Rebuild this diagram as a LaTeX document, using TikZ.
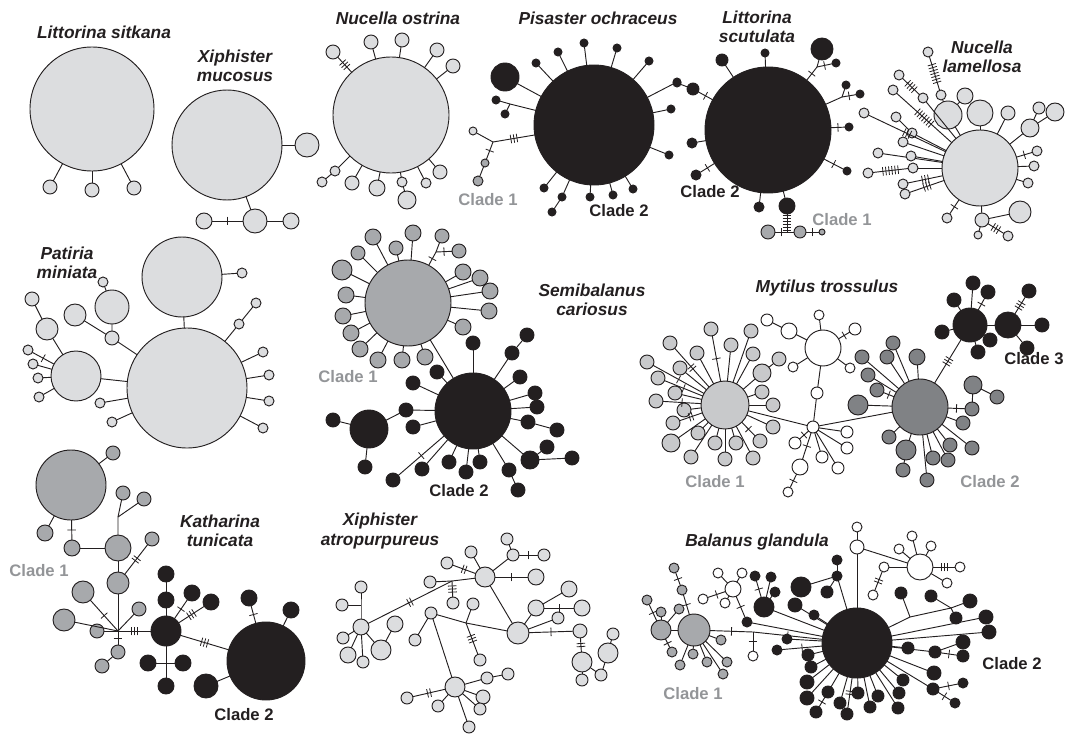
\documentclass[tikz,border=0pt]{standalone}
\usepackage{fontspec}
\setmainfont{Liberation Sans}
\usetikzlibrary{decorations.markings}

\definecolor{hlight}{HTML}{DCDDDF}
\definecolor{hmid}{HTML}{A7A9AC}
\definecolor{hpale}{HTML}{C8C9CB}
\definecolor{hdark}{HTML}{808285}
\definecolor{hblack}{HTML}{231F20}
\definecolor{cladegray}{HTML}{939598}

\tikzset{
  hap/.style={circle, draw=hblack, line width=0.7pt, inner sep=0pt, outer sep=0pt},
  sz/.style={minimum size={#1*1.5pt}},
  lg/.style={hap, fill=hlight},
  mg/.style={hap, fill=hmid},
  pg/.style={hap, fill=hpale},
  dg/.style={hap, fill=hdark},
  bk/.style={hap, fill=hblack},
  wh/.style={hap, fill=white},
  mut/.style={postaction={decorate, decoration={markings,
      mark=at position 0.5 with {\foreach \k in {1,...,#1}
        {\draw[line width=0.6pt] ({(\k-(#1+1)/2)*2.3pt},-3.2pt) -- ({(\k-(#1+1)/2)*2.3pt},3.2pt);}}}}},
  species/.style={font=\fontsize{13}{14.3}\selectfont\bfseries\itshape, align=center, text=hblack, inner sep=0pt},
  cladeg/.style={font=\fontsize{12.5}{14}\selectfont\bfseries, text=cladegray, inner sep=0pt},
  cladek/.style={font=\fontsize{12.5}{14}\selectfont\bfseries, text=hblack, inner sep=0pt}
}

\begin{document}
\begin{tikzpicture}[x=0.75pt, y=-0.75pt, line width=0.7pt, color=hblack]
\useasboundingbox (0,0) rectangle (1066,735);

% Littorina sitkana
\node[species] (lsT) at (104,32) {Littorina sitkana};
\node[lg, sz=62] (ls0) at (92,109) {};
\foreach \n/\x/\y in {1/50/187, 2/92/190, 3/134/188}
  {\node[lg, sz=7] (ls\n) at (\x,\y) {}; \draw (ls0) -- (ls\n);}

% Xiphister mucosus
\node[species] (xmT) at (235,66) {Xiphister\\mucosus};
\node[lg, sz=55] (xm0) at (227,145) {};
\node[lg, sz=12] (xm1) at (307,145) {};
\node[lg, sz=12] (xm2) at (255,221) {};
\node[lg, sz=8] (xm3) at (204,221) {};
\node[lg, sz=8] (xm4) at (291,221) {};
\draw (xm0) -- (xm1);
\draw (xm0) -- (xm2);
\draw[mut=1] (xm2) -- (xm3);
\draw (xm2) -- (xm4);

% Nucella ostrina
\node[species] (noT) at (398,18) {Nucella ostrina};
\node[lg, sz=58] (no0) at (391,115) {};
\foreach \n/\x/\y/\s in {2/371/42/7, 3/402/40/7, 4/437/50/7, 5/453/66/7, 6/440/172/7, 7/426/183/5, 8/402/182/5, 10/377/188/8, 11/352/183/7, 12/335/171/5}
  {\node[lg, sz=\s] (no\n) at (\x,\y) {}; \draw (no0) -- (no\n);}
\node[lg, sz=7] (no1) at (333,52) {};
\node[lg, sz=9] (no9) at (407,200) {};
\node[lg, sz=5] (no13) at (322,182) {};
\draw[mut=3] (no0) -- (no1);
\draw (no8) -- (no9);
\draw (no12) -- (no13);

% Pisaster ochraceus
\node[species] (poT) at (598,18) {Pisaster ochraceus};
\node[bk, sz=60] (po0) at (594,125) {};
\node[bk, sz=14] (po1) at (505,77) {};
\draw (po0) -- (po1);
\coordinate (poj1) at (510,104);
\node[bk, sz=4] (po2) at (496,100) {};
\node[bk, sz=4] (po3) at (505,114) {};
\draw (po0) -- (poj1) -- (po2);
\draw (poj1) -- (po3);
\coordinate (poj2) at (493,142);
\node[lg, sz=4] (po4) at (473,131) {};
\node[mg, sz=4] (po5) at (485,163) {};
\node[mg, sz=5] (po6) at (478,181) {};
\draw[mut=3] (po0) -- (poj2);
\draw (poj2) -- (po4);
\draw[mut=1] (poj2) -- (po5);
\draw (po5) -- (po6);
\foreach \n/\x/\y in {7/536/63, 8/558/52, 9/584/43, 10/617/48, 11/649/61, 12/677/82, 13/671/109, 14/669/155, 15/633/189, 16/613/195, 17/590/197, 18/544/188, 19/562/197}
  {\node[bk, sz=4] (po\n) at (\x,\y) {}; \draw (po0) -- (po\n);}
\node[bk, sz=4] (po20) at (552,212) {};
\draw (po19) -- (po20);
\node[cladeg] (poC1) at (488,200) {Clade 1};
\node[cladek] (poC2) at (619,211) {Clade 2};

% Littorina scutulata
\node[species] (lscT) at (757,27) {Littorina\\scutulata};
\node[bk, sz=63] (lsc0) at (768,130) {};
\foreach \n/\x/\y/\s in {1/765/53/4, 2/722/60/6, 7/692/143/5, 13/759/207/5, 14/787/206/8}
  {\node[bk, sz=\s] (lsc\n) at (\x,\y) {}; \draw (lsc0) -- (lsc\n);}
\foreach \n/\x/\y/\s in {8/696/175/5, 11/849/127/4, 12/847/171/4}
  {\node[bk, sz=\s] (lsc\n) at (\x,\y) {}; \draw[mut=1] (lsc0) -- (lsc\n);}
\coordinate (lscj1) at (817,67);
\node[bk, sz=11] (lsc3) at (822,49) {};
\node[bk, sz=4] (lsc4) at (836,63) {};
\draw[mut=1] (lsc0) -- (lscj1);
\draw (lscj1) -- (lsc3);
\draw[mut=1] (lscj1) -- (lsc4);
\node[bk, sz=6] (lsc6) at (693,89) {};
\node[bk, sz=4] (lsc5) at (677,83) {};
\draw[mut=1] (lsc0) -- (lsc6);
\draw (lsc6) -- (lsc5);
\coordinate (lscj2) at (842,97);
\node[bk, sz=4] (lsc9) at (846,85) {};
\node[bk, sz=4] (lsc10) at (860,94) {};
\draw (lsc0) -- (lscj2) -- (lsc9);
\draw[mut=1] (lscj2) -- (lsc10);
\coordinate (lscj3) at (787,232);
\draw[mut=6] (lsc14) -- (lscj3);
\node[mg, sz=7] (lsc15) at (768,232) {};
\node[mg, sz=6] (lsc16) at (800,232) {};
\node[mg, sz=3] (lsc17) at (822,232) {};
\draw[mut=1] (lsc15) -- (lscj3);
\draw (lscj3) -- (lsc16);
\draw[mut=1] (lsc16) -- (lsc17);
\node[cladek] (lscC2) at (710,192) {Clade 2};
\node[cladeg] (lscC1) at (842,220) {Clade 1};

% Nucella lamellosa
\node[species] (nlT) at (982,57) {Nucella\\lamellosa};
\node[lg, sz=38] (nl0) at (980,168) {};
\foreach \n/\x/\y/\s in {1/948/115/14, 2/980/113/13, 6/1008/113/7, 7/1030/128/9, 11/1034/166/5, 12/1028/183/5, 13/982/220/7, 22/878/153/5, 23/911/156/5, 24/903/142/5, 21/913/168/5, 27/912/133/5, 30/923/98/5}
  {\node[lg, sz=\s] (nl\n) at (\x,\y) {}; \draw (nl0) -- (nl\n);}
\foreach \n/\x/\y in {10/1037/151, 17/947/218}
  {\node[lg, sz=5] (nl\n) at (\x,\y) {}; \draw[mut=1] (nl0) -- (nl\n);}
\foreach \n/\x/\y in {18/905/194, 19/903/184, 25/864/113}
  {\node[lg, sz=5] (nl\n) at (\x,\y) {}; \draw[mut=3] (nl0) -- (nl\n);}
\node[lg, sz=5] (nl28) at (893,90) {};
\draw[mut=7] (nl0) -- (nl28);
\node[lg, sz=8] (nl3) at (965,96) {};
\node[lg, sz=5] (nl4) at (941,95) {};
\node[lg, sz=5] (nl5) at (928,52) {};
\draw (nl1) -- (nl3);
\draw (nl1) -- (nl4);
\draw[mut=7] (nl4) -- (nl5);
\node[lg, sz=6] (nl8) at (1039,108) {};
\node[lg, sz=9] (nl9) at (1055,112) {};
\draw (nl7) -- (nl8);
\draw (nl7) -- (nl9);
\node[lg, sz=11] (nl14) at (1020,212) {};
\node[lg, sz=4] (nl15) at (978,235) {};
\node[lg, sz=5] (nl16) at (1008,236) {};
\draw (nl13) -- (nl14);
\draw (nl13) -- (nl15);
\draw[mut=3] (nl13) -- (nl16);
\node[lg, sz=5] (nl20) at (868,173) {};
\draw[mut=6] (nl20) -- (nl21);
\node[lg, sz=5] (nl26) at (896,117) {};
\draw (nl26) -- (nl27);
\node[lg, sz=5] (nl29) at (899,75) {};
\draw[mut=4] (nl29) -- (nl30);

% Patiria miniata
\node[species] (pmT) at (67,263) {Patiria\\miniata};
\node[lg, sz=60] (pm0) at (187,388) {};
\foreach \n/\x/\y/\s in {1/182/277/40, 3/239/324/5, 5/263/352/5, 6/269/375/5, 7/269/401/5, 8/263/428/5, 9/100/403/5, 10/112/422/5, 11/112/338/7, 15/76/376/25}
  {\node[lg, sz=\s] (pm\n) at (\x,\y) {}; \draw (pm0) -- (pm\n);}
\node[lg, sz=5] (pm2) at (242,273) {};
\node[lg, sz=5] (pm4) at (256,303) {};
\node[lg, sz=17] (pm12) at (112,307) {};
\node[lg, sz=5] (pm13) at (103,282) {};
\node[lg, sz=11] (pm14) at (75,315) {};
\draw (pm1) -- (pm2);
\draw (pm3) -- (pm4);
\draw (pm11) -- (pm12) -- (pm13);
\draw (pm11) -- (pm14);
\node[lg, sz=11] (pm16) at (47,329) {};
\node[lg, sz=7] (pm17) at (32,299) {};
\draw (pm15) -- (pm16) -- (pm17);
\node[lg, sz=5] (pm18) at (28,350) {};
\draw[mut=1] (pm15) -- (pm18);
\foreach \n/\x/\y in {19/33/364, 20/38/378, 21/39/397}
  {\node[lg, sz=5] (pm\n) at (\x,\y) {}; \draw (pm15) -- (pm\n);}

% Semibalanus cariosus
\node[species] (scT) at (592,300) {Semibalanus\\cariosus};
\node[mg, sz=43] (sc0) at (408,303) {};
\foreach \n/\x/\y/\s in {1/373/237/8, 2/413/233/8, 3/396/248/7, 4/358/253/7, 5/342/270/10, 6/346/295/8, 7/343/316/8, 8/351/333/8, 9/360/349/8, 10/378/360/8, 11/402/360/8, 12/425/357/8, 13/463/327/8, 14/489/311/8, 15/490/291/8, 16/480/278/8, 17/463/272/8}
  {\node[mg, sz=\s] (sc\n) at (\x,\y) {}; \draw (sc0) -- (sc\n);}
\coordinate (scj1) at (436,252);
\node[mg, sz=7] (sc18) at (442,236) {};
\node[mg, sz=7] (sc19) at (459,251) {};
\draw[mut=1] (sc0) -- (scj1);
\draw (scj1) -- (sc18);
\draw[mut=1] (scj1) -- (sc19);
\node[cladeg] (scC1) at (348,377) {Clade 1};
\node[bk, sz=38] (sc20) at (473,411) {};
\draw (sc0) -- (sc20);
\node[bk, sz=19] (sc21) at (369,429) {};
\foreach \n/\x/\y in {22/333/420, 23/365/467}
  {\node[bk, sz=7] (sc\n) at (\x,\y) {}; \draw (sc21) -- (sc\n);}
\node[bk, sz=7] (sc24) at (406,410) {};
\draw (sc21) -- (sc24) -- (sc20);
\foreach \n/\x/\y/\s in {25/413/383/7, 26/437/372/7, 27/413/427/7, 28/473/343/7, 29/512/353/7, 31/520/377/7, 32/535/393/7, 33/537/407/7, 34/528/422/7, 36/530/460/9, 39/422/469/7, 40/449/462/7, 41/466/472/7, 42/480/462/7, 43/509/470/7}
  {\node[bk, sz=\s] (sc\n) at (\x,\y) {}; \draw (sc20) -- (sc\n);}
\node[bk, sz=7] (sc38) at (393,480) {};
\draw[mut=1] (sc20) -- (sc38);
\node[bk, sz=7] (sc30) at (527,335) {};
\node[bk, sz=7] (sc35) at (557,430) {};
\node[bk, sz=7] (sc37) at (547,447) {};
\node[bk, sz=7] (sc44) at (572,458) {};
\node[bk, sz=7] (sc45) at (518,490) {};
\draw (sc29) -- (sc30);
\draw (sc34) -- (sc35);
\draw (sc36) -- (sc37);
\draw (sc36) -- (sc44);
\draw (sc43) -- (sc45);
\node[cladek] (scC2) at (459,491) {Clade 2};

% Mytilus trossulus
\node[species] (mtT) at (827,288) {Mytilus trossulus};
\node[pg, sz=24] (mt1) at (725,405) {};
\foreach \n/\x/\y/\s in {6/671/443/9, 7/691/457/7, 8/680/368/7, 9/675/393/7, 11/684/410/7, 12/697/353/7, 13/731/345/7, 14/751/331/7, 15/753/354/7, 16/762/373/9, 18/762/392/7, 19/773/405/7, 20/773/427/7, 21/753/458/7, 22/736/443/7, 23/725/459/7, 24/715/443/7, 25/698/433/7}
  {\node[pg, sz=\s] (mta\n) at (\x,\y) {}; \draw (mt1) -- (mta\n);}
\foreach \n/\x/\y in {2/647/362, 3/658/378, 4/656/401, 10/711/329, 17/760/441}
  {\node[pg, sz=7] (mta\n) at (\x,\y) {}; \draw[mut=1] (mt1) -- (mta\n);}
\foreach \n/\x/\y in {1/670/343, 5/673/423}
  {\node[pg, sz=7] (mta\n) at (\x,\y) {}; \draw[mut=2] (mt1) -- (mta\n);}
\node[pg, sz=7] (mta26) at (779,359) {};
\draw (mta16) -- (mta26);
\node[wh, sz=18] (mtw0) at (823,348) {};
\node[wh, sz=8] (mtw1) at (789,331) {};
\node[wh, sz=6] (mtw2) at (767,320) {};
\draw (mtw0) -- (mtw1) -- (mtw2);
\foreach \n/\x/\y/\s in {3/819/315/5, 5/793/367/5, 6/850/368/5}
  {\node[wh, sz=\s] (mtw\n) at (\x,\y) {}; \draw (mtw0) -- (mtw\n);}
\node[wh, sz=6] (mtw4) at (855,329) {};
\draw[mut=1] (mtw0) -- (mtw4);
\node[wh, sz=6] (mtw7) at (817,393) {};
\node[wh, sz=6] (mtw8) at (813,427) {};
\draw (mtw0) -- (mtw7) -- (mtw8);
\foreach \n/\x/\y in {10/822/457, 11/847/432, 12/847/448, 13/838/468}
  {\node[wh, sz=6] (mtw\n) at (\x,\y) {}; \draw (mtw8) -- (mtw\n);}
\node[wh, sz=6] (mtw14) at (795,443) {};
\node[wh, sz=8] (mtw9) at (800,467) {};
\node[wh, sz=5] (mtw15) at (788,492) {};
\draw[mut=1] (mtw8) -- (mtw14);
\draw[mut=1] (mtw8) -- (mtw9);
\draw[mut=1] (mtw9) -- (mtw15);
\node[dg, sz=28] (mt2) at (920,407) {};
\draw (mt1) -- (mtw8) -- (mt2);
\foreach \n/\x/\y/\s in {1/862/357/7, 2/868/375/7, 4/858/405/10, 5/887/357/7, 6/893/343/7, 7/917/357/8, 8/889/437/7, 9/906/450/10, 11/927/480/7, 12/933/458/7, 13/948/460/7, 14/950/445/7, 15/963/423/7, 16/972/448/7}
  {\node[dg, sz=\s] (mtd\n) at (\x,\y) {}; \draw (mt2) -- (mtd\n);}
\foreach \n/\x/\y in {3/877/390, 17/972/409}
  {\node[dg, sz=7] (mtd\n) at (\x,\y) {}; \draw[mut=1] (mt2) -- (mtd\n);}
\node[dg, sz=7] (mtd10) at (903,470) {};
\node[dg, sz=9] (mtd18) at (973,385) {};
\node[dg, sz=7] (mtd19) at (997,397) {};
\draw (mtd9) -- (mtd10);
\draw (mtd17) -- (mtd18) -- (mtd19);
\node[bk, sz=17] (mt3) at (970,325) {};
\node[bk, sz=13] (mt4) at (1008,325) {};
\draw[mut=3] (mt2) -- (mt3);
\draw (mt3) -- (mt4);
\foreach \n/\x/\y in {1/973/283, 3/942/332, 4/954/300, 5/990/340, 6/978/352}
  {\node[bk, sz=7] (mtk\n) at (\x,\y) {}; \draw (mt3) -- (mtk\n);}
\node[bk, sz=7] (mtk2) at (988,292) {};
\draw[mut=1] (mt3) -- (mtk2);
\node[bk, sz=7] (mtk7) at (1029,291) {};
\draw[mut=3] (mt4) -- (mtk7);
\foreach \n/\x/\y in {8/1042/325, 9/1027/348}
  {\node[bk, sz=7] (mtk\n) at (\x,\y) {}; \draw (mt4) -- (mtk\n);}
\node[cladeg] (mtC1) at (715,482) {Clade 1};
\node[cladeg] (mtC2) at (990,482) {Clade 2};
\node[cladek, anchor=east] (mtC3) at (1064,359) {Clade 3};

% Katharina tunicata
\node[species] (ktT) at (220,531) {Katharina\\tunicata};
\node[mg, sz=35] (kt0) at (71,485) {};
\node[mg, sz=7] (kt1) at (113,453) {};
\node[mg, sz=8] (kt2) at (45,533) {};
\node[mg, sz=8] (kt3) at (72,548) {};
\node[mg, sz=13] (kt4) at (118,548) {};
\draw (kt0) -- (kt1);
\draw (kt0) -- (kt2);
\draw[mut=1] (kt0) -- (kt3);
\draw (kt3) -- (kt4);
\coordinate (ktj1) at (118,517);
\node[mg, sz=7] (kt5) at (123,493) {};
\node[mg, sz=7] (kt6) at (144,499) {};
\draw (kt4) -- (ktj1) -- (kt5);
\draw (ktj1) -- (kt6);
\node[mg, sz=11] (kt7) at (118,583) {};
\node[mg, sz=7] (kt8) at (152,539) {};
\draw (kt4) -- (kt7);
\draw[mut=2] (kt7) -- (kt8);
\coordinate (ktj2) at (118,631);
\draw (kt7) -- (ktj2);
\node[mg, sz=11] (kt9) at (83,592) {};
\node[mg, sz=11] (kt10) at (64,620) {};
\node[mg, sz=7] (kt11) at (97,631) {};
\node[mg, sz=7] (kt12) at (139,609) {};
\node[mg, sz=7] (kt13) at (118,652) {};
\node[mg, sz=7] (kt14) at (102,666) {};
\draw[mut=1] (ktj2) -- (kt9);
\draw (ktj2) -- (kt10);
\draw (ktj2) -- (kt11);
\draw (ktj2) -- (kt12);
\draw[mut=1] (ktj2) -- (kt13);
\draw (kt13) -- (kt14);
\node[bk, sz=15] (kt15) at (166,631) {};
\draw[mut=3] (ktj2) -- (kt15);
\node[bk, sz=8] (kt16) at (166,600) {};
\node[bk, sz=8] (kt17) at (166,574) {};
\node[bk, sz=8] (kt18) at (192,593) {};
\node[bk, sz=8] (kt19) at (211,602) {};
\draw (kt15) -- (kt16) -- (kt17);
\draw[mut=1] (kt15) -- (kt18);
\draw[mut=3] (kt15) -- (kt19);
\coordinate (ktj3) at (166,663);
\draw (kt15) -- (ktj3);
\foreach \n/\x/\y in {20/148/663, 21/183/663, 22/166/686}
  {\node[bk, sz=8] (kt\n) at (\x,\y) {}; \draw (ktj3) -- (kt\n);}
\node[bk, sz=39] (kt23) at (266,661) {};
\draw[mut=3] (kt15) -- (kt23);
\node[bk, sz=8] (kt24) at (249,598) {};
\node[bk, sz=8] (kt25) at (291,610) {};
\node[bk, sz=12] (kt26) at (206,686) {};
\draw[mut=1] (kt23) -- (kt24);
\draw (kt23) -- (kt25);
\draw (kt23) -- (kt26);
\node[cladeg] (ktC1) at (39,571) {Clade 1};
\node[cladek] (ktC2) at (244,715) {Clade 2};

% Xiphister atropurpureus
\node[species] (xaT) at (380,531) {Xiphister\\atropurpureus};
\node[lg, sz=10] (xaA) at (485,577) {};
\node[lg, sz=6] (xa1) at (471,552) {};
\node[lg, sz=6] (xa2) at (447,563) {};
\node[lg, sz=6] (xa3) at (513,555) {};
\node[lg, sz=6] (xa4) at (507,539) {};
\node[lg, sz=6] (xa5) at (544,555) {};
\node[lg, sz=8] (xa6) at (536,577) {};
\draw (xaA) -- (xa1);
\draw[mut=2] (xaA) -- (xa2);
\draw (xaA) -- (xa3) -- (xa4);
\draw[mut=1] (xa3) -- (xa5);
\draw[mut=1] (xaA) -- (xa6);
\node[lg, sz=6] (xaB) at (430,582) {};
\coordinate (xaj1) at (452,581);
\node[lg, sz=6] (xa7) at (453,603) {};
\draw (xaB) -- (xaj1) -- (xaA);
\draw[mut=3] (xaj1) -- (xa7);
\node[lg, sz=8] (xaC) at (361,627) {};
\draw[mut=2] (xaC) -- (xaj1);
\coordinate (xaj2) at (361,605);
\node[lg, sz=6] (xa8) at (361,587) {};
\node[lg, sz=6] (xa9) at (342,605) {};
\draw (xaC) -- (xaj2) -- (xa8);
\draw (xaj2) -- (xa9);
\foreach \n/\x/\y/\s in {10/343/638/6, 11/348/655/8, 12/363/662/6, 13/381/650/10}
  {\node[lg, sz=\s] (xa\n) at (\x,\y) {}; \draw (xaC) -- (xa\n);}
\node[lg, sz=8] (xa14) at (395,624) {};
\draw (xa13) -- (xa14);
\node[lg, sz=11] (xaD) at (518,633) {};
\draw (xaA) -- (xaD);
\node[lg, sz=8] (xa15) at (536,608) {};
\node[lg, sz=8] (xa16) at (569,589) {};
\node[lg, sz=8] (xa17) at (582,608) {};
\node[lg, sz=6] (xa18) at (558,618) {};
\node[lg, sz=7] (xa19) at (580,631) {};
\draw (xaD) -- (xa15) -- (xa16);
\draw[mut=1] (xa15) -- (xa17);
\draw (xaD) -- (xa18);
\draw[mut=1] (xaD) -- (xa19);
\node[lg, sz=10] (xa20) at (582,662) {};
\node[lg, sz=6] (xa21) at (582,680) {};
\node[lg, sz=6] (xa22) at (601,675) {};
\node[lg, sz=10] (xa23) at (608,653) {};
\node[lg, sz=6] (xa24) at (613,634) {};
\draw[mut=2] (xa19) -- (xa20);
\draw (xa20) -- (xa21);
\draw (xa20) -- (xa22) -- (xa23) -- (xa24);
\node[lg, sz=6] (xaE) at (431,613) {};
\coordinate (xaj3) at (466,623);
\node[lg, sz=6] (xa25) at (473,604) {};
\node[lg, sz=6] (xa26) at (480,660) {};
\draw (xaE) -- (xaj3) -- (xaD);
\draw (xaj3) -- (xa25);
\draw[mut=3] (xaj3) -- (xa26);
\node[lg, sz=6] (xa27) at (415,640) {};
\draw (xaE) -- (xa27);
\node[lg, sz=10] (xaF) at (455,687) {};
\draw (xaE) -- (xaF);
\node[lg, sz=6] (xa28) at (407,698) {};
\draw[mut=2] (xaF) -- (xa28);
\foreach \n/\x/\y/\s in {29/438/706/6, 30/469/727/6, 31/483/697/7, 32/480/709/6, 33/487/678/6}
  {\node[lg, sz=\s] (xa\n) at (\x,\y) {}; \draw (xaF) -- (xa\n);}
\node[lg, sz=6] (xa34) at (508,674) {};
\draw (xa33) -- (xa34);

% Balanus glandula
\node[species] (bgT) at (757,542) {Balanus glandula};
\node[bk, sz=35] (bg0) at (857,643) {};
\node[wh, sz=5] (bgw1) at (857,527) {};
\node[wh, sz=7] (bgw2) at (857,547) {};
\node[wh, sz=13] (bgw3) at (920,567) {};
\draw (bg0) -- (bgw2) -- (bgw1);
\draw (bgw2) -- (bgw3);
\foreach \n/\x/\y in {4/912/536, 5/899/549, 6/931/546, 8/947/583, 9/884/567}
  {\node[wh, sz=5] (bgw\n) at (\x,\y) {}; \draw (bgw3) -- (bgw\n);}
\node[wh, sz=5] (bgw7) at (960,567) {};
\draw[mut=3] (bgw3) -- (bgw7);
\node[wh, sz=5] (bgw10) at (873,595) {};
\draw[mut=2] (bgw9) -- (bgw10);
\node[wh, sz=8] (bgw11) at (733,589) {};
\foreach \n/\x/\y in {12/718/573, 13/742/573, 15/725/603}
  {\node[wh, sz=5] (bgw\n) at (\x,\y) {}; \draw (bgw11) -- (bgw\n);}
\node[wh, sz=5] (bgw14) at (703,599) {};
\draw[mut=1] (bgw11) -- (bgw14);
\node[bk, sz=5] (bgk1) at (747,622) {};
\draw[mut=1] (bgw11) -- (bgk1);
\draw (bgk1) -- (bg0);
\node[mg, sz=16] (bgg0) at (694,630) {};
\node[mg, sz=10] (bgg1) at (661,630) {};
\draw (bgg0) -- (bgg1);
\coordinate (bgj1) at (753,632);
\node[wh, sz=5] (bgw16) at (753,656) {};
\draw[mut=1] (bgg0) -- (bgj1);
\draw[mut=1] (bgj1) -- (bg0);
\draw[mut=1] (bgj1) -- (bgw16);
\node[bk, sz=10] (bgk2) at (764,607) {};
\draw (bg0) -- (bgk2);
\node[bk, sz=5] (bgk3) at (755,576) {};
\draw[mut=1] (bgk2) -- (bgk3);
\foreach \n/\x/\y in {4/771/577, 5/775/592}
  {\node[bk, sz=5] (bgk\n) at (\x,\y) {}; \draw (bgk2) -- (bgk\n);}
\node[bk, sz=5] (bgk7) at (837,576) {};
\node[bk, sz=10] (bgk6) at (801,587) {};
\node[bk, sz=5] (bgk8) at (837,560) {};
\node[bk, sz=6] (bgk9) at (827,592) {};
\draw (bg0) -- (bgk7) -- (bgk6);
\draw (bgk7) -- (bgk8);
\draw (bgk7) -- (bgk9);
\foreach \n/\x/\y/\s in {10/795/605/7, 11/814/615/5, 12/787/639/5, 14/808/655/6, 15/811/667/6, 16/807/682/7, 17/807/698/7, 19/828/692/6, 20/840/703/6, 22/858/693/6, 23/870/707/6, 24/878/696/6, 25/898/708/6, 26/899/693/6, 27/903/680/6, 28/934/673/7, 29/933/689/6, 32/908/648/6, 33/935/652/6, 36/986/617/7, 37/989/632/7}
  {\node[bk, sz=\s] (bgk\n) at (\x,\y) {}; \draw (bg0) -- (bgk\n);}
\node[bk, sz=5] (bgk13) at (777,650) {};
\draw[mut=1] (bg0) -- (bgk13);
\node[bk, sz=6] (bgk21) at (847,714) {};
\draw[mut=2] (bg0) -- (bgk21);
\node[bk, sz=6] (bgk18) at (816,712) {};
\draw[mut=1] (bgk19) -- (bgk18);
\node[bk, sz=5] (bgk30) at (963,683) {};
\node[bk, sz=5] (bgk31) at (955,703) {};
\draw[mut=1] (bgk29) -- (bgk30);
\draw[mut=1] (bgk29) -- (bgk31);
\node[bk, sz=7] (bgk34) at (963,642) {};
\node[bk, sz=6] (bgk35) at (963,656) {};
\draw (bgk33) -- (bgk34);
\draw[mut=1] (bgk33) -- (bgk35);
\coordinate (bgj2) at (910,617);
\coordinate (bgj3) at (951,608);
\node[bk, sz=6] (bgk38) at (901,593) {};
\node[bk, sz=6] (bgk39) at (931,596) {};
\node[bk, sz=7] (bgk40) at (970,601) {};
\node[bk, sz=6] (bgk41) at (956,618) {};
\draw (bg0) -- (bgj2) -- (bgj3) -- (bgk40);
\draw (bgj2) -- (bgk38);
\draw (bgj3) -- (bgk39);
\draw (bgj3) -- (bgk41);
\node[mg, sz=5] (bgg2) at (674,568) {};
\node[mg, sz=5] (bgg3) at (682,590) {};
\draw[mut=1] (bgg2) -- (bgg3);
\draw[mut=1] (bgg3) -- (bgg0);
\node[mg, sz=5] (bgg4) at (647,600) {};
\draw[mut=1] (bgg1) -- (bgg4);
\foreach \n/\x/\y in {5/661/612, 6/679/609}
  {\node[mg, sz=5] (bgg\n) at (\x,\y) {}; \draw (bgg1) -- (bgg\n);}
\node[mg, sz=5] (bgg7) at (672,652) {};
\draw[mut=1] (bgg1) -- (bgg7);
\foreach \n/\x/\y in {8/680/665, 9/693/654, 10/707/662, 11/721/640, 12/723/674, 13/727/662}
  {\node[mg, sz=5] (bgg\n) at (\x,\y) {}; \draw (bgg0) -- (bgg\n);}
\node[cladeg] (bgC1) at (693,694) {Clade 1};
\node[cladek] (bgC2) at (1012,664) {Clade 2};
\end{tikzpicture}
\end{document}
